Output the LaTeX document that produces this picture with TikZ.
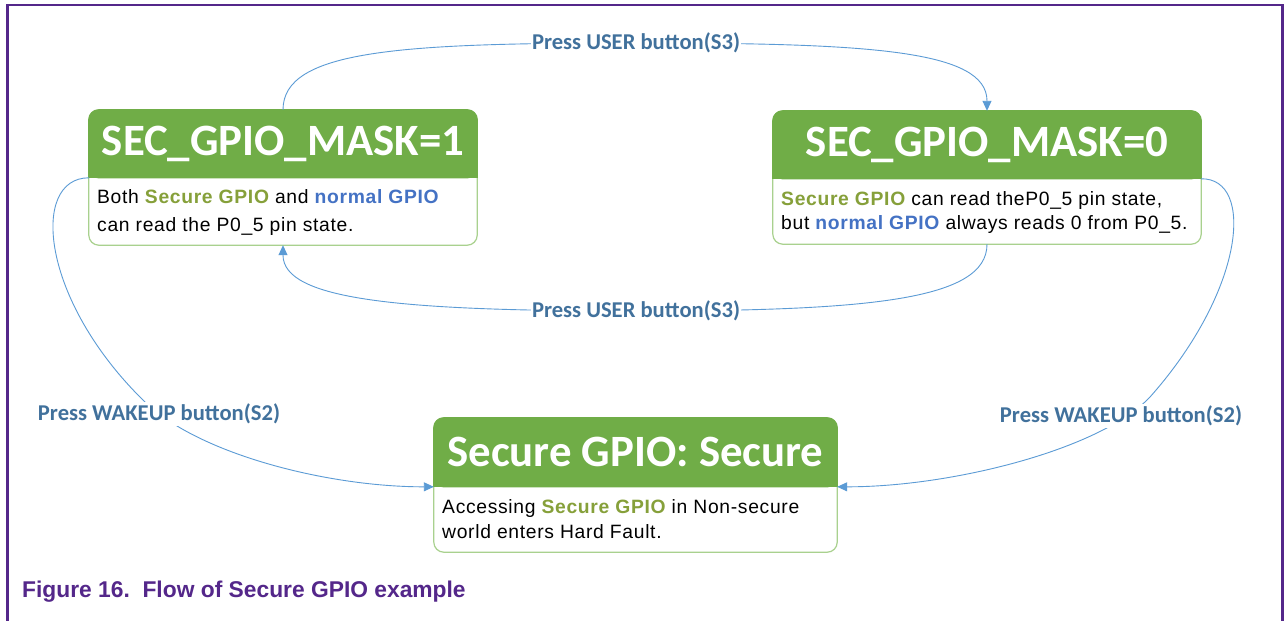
\documentclass[tikz,border=0pt]{standalone}
\usepackage{fontspec}
\setmainfont{Liberation Sans}[LetterSpace=3.5]
\newfontfamily\calibri{Carlito}
\newfontfamily\capfont{Liberation Sans}
\usetikzlibrary{arrows.meta,calc}
\definecolor{hdrgreen}{HTML}{70AD47}
\definecolor{bordgreen}{HTML}{A9D18E}
\definecolor{secgreen}{HTML}{86A03A}
\definecolor{normblue}{HTML}{4472C4}
\definecolor{lblblue}{HTML}{41719C}
\definecolor{connblue}{HTML}{5B9BD5}
\definecolor{nxppurple}{HTML}{54278A}
\newcommand{\secg}[1]{\textcolor{secgreen}{\bfseries #1}}
\newcommand{\normg}[1]{\textcolor{normblue}{\bfseries #1}}
\tikzset{
  boxshape/.style={rectangle, inner sep=0pt, draw=none},
  boxborder/.style={draw=bordgreen, line width=1.2pt, fill=white, rounded corners=10pt},
  hdrfill/.style={fill=hdrgreen, draw=hdrgreen, line width=1.2pt},
  titletext/.style={text=white, font=\calibri\bfseries\fontsize{44.8}{50}\selectfont, inner sep=0pt},
  bodytext/.style={text=black, font=\fontsize{19.3}{24}\selectfont, inner sep=0pt, anchor=base west},
  conn/.style={draw=connblue, line width=0.9pt},
  connarrow/.style={conn, -{Triangle[length=10pt,width=9pt]}},
  lbl/.style={text=lblblue, font=\calibri\bfseries\fontsize{22.6}{26}\selectfont, fill=white, inner sep=1.5pt},
  frameline/.style={draw=nxppurple, line width=2.2pt},
  captext/.style={text=nxppurple, font=\capfont\fontsize{22.8}{26}\selectfont, inner sep=0pt, anchor=base west}
}
\begin{document}
\begin{tikzpicture}[x=1pt,y=-1pt]
\useasboundingbox (0,0) rectangle (1285,621);
\fill[white] (0,0) rectangle (1285,621);
% frame
\draw[frameline] (7.5,621) -- (7.5,5) -- (1282.5,5) -- (1282.5,621);

% box 1
\node[boxshape, minimum width=388pt, minimum height=135pt] (b1) at (283,177.5) {};
\coordinate (h1w) at ([yshift=-68pt]b1.north west);
\coordinate (h1e) at ([yshift=-68pt]b1.north east);
\draw[boxborder] (b1.north west) rectangle (b1.south east);
\path[hdrfill, rounded corners=10pt] (b1.north west) rectangle (h1e);
\path[hdrfill] ([yshift=14pt]h1w) rectangle (h1e);
\node[titletext] (t1) at ([yshift=-34pt]b1.north) {SEC\_GPIO\_MASK=1};
\node[bodytext] (d1a) at (97,203.5) {Both \secg{Secure GPIO} and \normg{normal GPIO}};
\node[bodytext] (d1b) at (97,231.5) {can read the P0\_5 pin state.};

% box 2
\node[boxshape, minimum width=428pt, minimum height=133pt] (b2) at (987,177.5) {};
\coordinate (h2w) at ([yshift=-68pt]b2.north west);
\coordinate (h2e) at ([yshift=-68pt]b2.north east);
\draw[boxborder] (b2.north west) rectangle (b2.south east);
\path[hdrfill, rounded corners=10pt] (b2.north west) rectangle (h2e);
\path[hdrfill] ([yshift=14pt]h2w) rectangle (h2e);
\node[titletext] (t2) at ([yshift=-34pt]b2.north) {SEC\_GPIO\_MASK=0};
\node[bodytext] (d2a) at (781,205) {\secg{Secure GPIO} can read theP0\_5 pin state,};
\node[bodytext] (d2b) at (781,229.5) {but \normg{normal GPIO} always reads 0 from P0\_5.};

% box 3
\node[boxshape, minimum width=403pt, minimum height=134pt] (b3) at (635.5,485) {};
\coordinate (h3w) at ([yshift=-69pt]b3.north west);
\coordinate (h3e) at ([yshift=-69pt]b3.north east);
\draw[boxborder] (b3.north west) rectangle (b3.south east);
\path[hdrfill, rounded corners=10pt] (b3.north west) rectangle (h3e);
\path[hdrfill] ([yshift=14pt]h3w) rectangle (h3e);
\node[titletext] (t3) at ([yshift=-34.5pt]b3.north) {Secure GPIO: Secure};
\node[bodytext] (d3a) at (442,513) {Accessing \secg{Secure GPIO} in Non-secure};
\node[bodytext] (d3b) at (442,538) {world enters Hard Fault.};

% connectors
\coordinate (u1) at (636,43);
\coordinate (u2) at (636,311);
\coordinate (w1) at (145,402);
\coordinate (w2) at (1150,397);
\draw[connarrow] (b1.north) .. controls (283,50) and (400,43) .. (u1)
  .. controls (870,43) and (987,50) .. (b2.north);
\draw[connarrow] (b2.south) .. controls (987,300) and (870,311) .. (u2)
  .. controls (400,311) and (283,300) .. (b1.south);
\draw[connarrow] (h1w) .. controls (30,178) and (40,300) .. (w1)
  .. controls (200,455) and (330,487) .. (h3w);
\draw[connarrow] (h2e) .. controls (1255,178) and (1245,290) .. (w2)
  .. controls (1100,450) and (950,487) .. (h3e);

% labels
\node[lbl] (l1) at (636,43) {Press USER button(S3)};
\node[lbl] (l2) at (636,311) {Press USER button(S3)};
\node[lbl] (l3) at (159,414) {Press WAKEUP button(S2)};
\node[lbl] (l4) at (1121,416) {Press WAKEUP button(S2)};

% caption
\node[captext] (cap) at (22,597) {\bfseries Figure 16.\ \ Flow of Secure GPIO example};
\end{tikzpicture}
\end{document}
